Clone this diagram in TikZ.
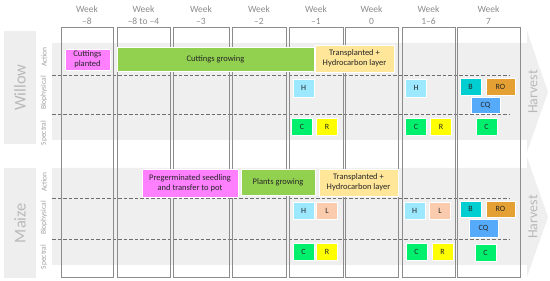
\documentclass[tikz,border=0pt]{standalone}
\usepackage{fontspec}
\setmainfont{Carlito}
\definecolor{colline}{RGB}{140,140,140}
\definecolor{wktext}{RGB}{140,140,140}
\definecolor{bandgray}{RGB}{240,239,240}
\definecolor{labgray}{RGB}{238,238,238}
\definecolor{croptext}{RGB}{185,185,185}
\definecolor{rowtext}{RGB}{160,160,160}
\definecolor{dashgray}{RGB}{110,110,110}
\definecolor{plant}{RGB}{255,128,255}
\definecolor{grow}{RGB}{146,208,80}
\definecolor{trans}{RGB}{255,230,153}
\definecolor{hcol}{RGB}{155,232,255}
\definecolor{lcol}{RGB}{250,203,172}
\definecolor{bcol}{RGB}{0,206,209}
\definecolor{rocol}{RGB}{228,160,50}
\definecolor{cqcol}{RGB}{85,170,250}
\definecolor{ccol}{RGB}{0,240,110}
\definecolor{rcol}{RGB}{255,255,0}

\begin{document}
\begin{tikzpicture}[x=1pt,y=1pt,font=\footnotesize,
  col/.style={draw=colline,line width=0.9pt,minimum height=250pt,inner sep=0pt},
  wk/.style={font=\fontsize{9.5}{12}\selectfont,text=wktext,align=center},
  band/.style={fill=bandgray},
  crop/.style={fill=labgray,rotate=90,minimum height=32pt,inner sep=0pt,
    font=\fontsize{16.5}{18}\selectfont,text=croptext},
  row/.style={rotate=90,inner sep=0pt,font=\fontsize{7.5}{9}\selectfont,text=rowtext},
  hv/.style={rotate=90,inner sep=0pt,font=\fontsize{14}{16}\selectfont,text=croptext},
  act/.style={draw=white,line width=0.4pt,inner sep=0pt,align=center,
    font=\fontsize{8.5}{10}\selectfont,text=black!85},
  mk/.style={act,font=\fontsize{8}{9}\selectfont,minimum width=21pt,minimum height=17pt},
  sep/.style={draw=dashgray,line width=0.7pt,dash pattern=on 3.5pt off 2pt}]
\useasboundingbox (0,0) rectangle (550,281);
% bands with harvest arrows
\fill[band] (52,238) -- (527,238) -- (527,250) -- (548,189) -- (527,129) -- (527,141) -- (52,141) -- cycle;
\fill[band] (52,113) -- (527,113) -- (527,124) -- (548,64) -- (527,4) -- (527,16) -- (52,16) -- cycle;
\node[hv] (hw) at (533,189) {Harvest};
\node[hv] (hm) at (533,64) {Harvest};
% crops and rows
\node[crop,minimum width=113pt] (willow) at (20,193.5) {Willow};
\node[crop,minimum width=110pt] (maize) at (20,58) {Maize};
\node[row] (wa) at (44,224) {Action};
\node[row] (wb) at (44,188) {Biophysical};
\node[row] (ws) at (44,148) {Spectral};
\node[row] (ma) at (44,99) {Action};
\node[row] (mb) at (44,63) {Biophysical};
\node[row] (ms) at (44,24) {Spectral};
\draw[sep] (52,206) -- (510,206);
\draw[sep] (52,167) -- (510,167);
\draw[sep] (52,83) -- (510,83);
\draw[sep] (52,42) -- (510,42);
% weeks
\foreach \a/\b/\wk [count=\i] in {61/113/{–8},117/170/{–8 to –4},173/229/{–3},
    232/286/{–2},289/343/{–1},345/398/0,402/455/{1–6},457/520/7}{
  \node[col,minimum width=\b-\a] (c\i) at ({(\a+\b)/2},129) {};
  \node[wk] (w\i) at ({(\a+\b)/2},266) {Week\\\wk};
}
% willow
\node[act,fill=plant,minimum width=45pt,minimum height=21pt] (wplant) at (87.5,221.5) {Cuttings\\planted};
\node[act,fill=grow,minimum width=197pt,minimum height=24pt] (wgrow) at (215.5,222) {Cuttings growing};
\node[act,fill=trans,minimum width=79pt,minimum height=27pt] (wtrans) at (354.5,222.5) {Transplanted +\\Hydrocarbon layer};
\node[mk,fill=hcol,minimum height=18pt] (wh1) at (303.5,193) {H};
\node[mk,fill=hcol,minimum height=18pt] (wh2) at (416,193) {H};
\node[mk,fill=bcol] (wb7) at (470.5,194.5) {B};
\node[mk,fill=rocol,minimum width=29pt] (wro7) at (500.5,194.5) {RO};
\node[mk,fill=cqcol,minimum width=29pt,minimum height=16pt] (wcq7) at (485.5,176) {CQ};
\node[mk,fill=ccol] (wc1) at (302,154.5) {C};
\node[mk,fill=rcol] (wr1) at (327,154.5) {R};
\node[mk,fill=ccol] (wc2) at (416,154.5) {C};
\node[mk,fill=rcol] (wr2) at (441,154.5) {R};
\node[mk,fill=ccol] (wc7) at (486.5,154.5) {C};
% maize
\node[act,fill=plant,minimum width=96pt,minimum height=28pt] (mplant) at (190,98) {Pregerminated seedling\\and transfer to pot};
\node[act,fill=grow,minimum width=74pt,minimum height=26pt] (mgrow) at (278,99) {Plants growing};
\node[act,fill=trans,minimum width=79pt,minimum height=27pt] (mtrans) at (358.5,98.5) {Transplanted +\\Hydrocarbon layer};
\node[mk,fill=hcol] (mh1) at (303.5,70.5) {H};
\node[mk,fill=lcol] (ml1) at (327,70.5) {L};
\node[mk,fill=hcol] (mh2) at (414.5,70.5) {H};
\node[mk,fill=lcol] (ml2) at (440,70.5) {L};
\node[mk,fill=bcol,minimum height=16pt] (mb7) at (470.5,72) {B};
\node[mk,fill=rocol,minimum width=29pt,minimum height=16pt] (mro7) at (500.5,72) {RO};
\node[mk,fill=cqcol,minimum width=29pt,minimum height=18pt] (mcq7) at (483.5,53) {CQ};
\node[mk,fill=ccol] (mc1) at (303.5,29.5) {C};
\node[mk,fill=rcol] (mr1) at (327,29.5) {R};
\node[mk,fill=ccol] (mc2) at (416.5,29.5) {C};
\node[mk,fill=rcol] (mr2) at (442.5,29.5) {R};
\node[mk,fill=ccol] (mc7) at (485.5,28.5) {C};
\end{tikzpicture}
\end{document}
